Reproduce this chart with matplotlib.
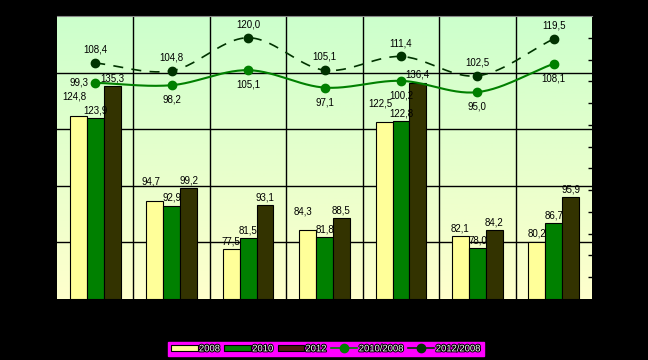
import numpy as np
import matplotlib
matplotlib.use("Agg")
import matplotlib.pyplot as plt
import matplotlib.patheffects as pe
from matplotlib.patches import Patch
from matplotlib.lines import Line2D

# chart data
categories = ["1", "2", "3", "4", "5", "6", "7"]
bars_2008 = [124.8, 94.7, 77.5, 84.3, 122.5, 82.1, 80.2]
bars_2010 = [123.9, 92.9, 81.5, 81.8, 122.8, 78.0, 86.7]
bars_2012 = [135.3, 99.2, 93.1, 88.5, 136.4, 84.2, 95.9]
ratio_2010_2008 = [99.3, 98.2, 105.1, 97.1, 100.2, 95.0, 108.1]
ratio_2012_2008 = [108.4, 104.8, 120.0, 105.1, 111.4, 102.5, 119.5]
bar_labels = ["2008", "2010", "2012"]
line_labels = ["2010/2008", "2012/2008"]

c_2008 = "#ffff99"
c_2010 = "#008000"
c_2012 = "#333300"
c_line1 = "#008000"
c_line2 = "#003300"

plt.rcParams["font.family"] = ["Liberation Sans", "DejaVu Sans"]


def fmt(v):
    return f"{v:.1f}".replace(".", ",")


def smooth(xs, ys, n=30):
    # Catmull-Rom style smoothing like spreadsheet "smoothed line"
    xs = np.asarray(xs, float)
    ys = np.asarray(ys, float)
    px = np.concatenate([[2 * xs[0] - xs[1]], xs, [2 * xs[-1] - xs[-2]]])
    py = np.concatenate([[2 * ys[0] - ys[1]], ys, [2 * ys[-1] - ys[-2]]])
    outx, outy = [], []
    t = np.linspace(0, 1, n)
    for i in range(1, len(px) - 2):
        for arr, out in ((px, outx), (py, outy)):
            p0, p1, p2, p3 = arr[i - 1], arr[i], arr[i + 1], arr[i + 2]
            out.extend(0.5 * ((2 * p1) + (-p0 + p2) * t
                              + (2 * p0 - 5 * p1 + 4 * p2 - p3) * t ** 2
                              + (-p0 + 3 * p1 - 3 * p2 + p3) * t ** 3))
    return np.array(outx), np.array(outy)


fig = plt.figure(figsize=(6.48, 3.6), dpi=100, facecolor="black")
ax = fig.add_axes([0.088, 0.170, 0.8256, 0.7855])

n = len(categories)
x = np.arange(n)
ax.set_xlim(-0.5, n - 0.5)
ax.set_ylim(60, 160)

# gradient background
grad = np.linspace(0, 1, 256).reshape(-1, 1)
cmap = matplotlib.colors.LinearSegmentedColormap.from_list("bg", ["#ffffcc", "#ccffcc"])
ax.imshow(grad, extent=[-0.5, n - 0.5, 60, 160], origin="lower", aspect="auto",
          cmap=cmap, zorder=0)

for yv in [80, 100, 120, 140]:
    ax.axhline(yv, color="black", lw=1, zorder=1)
for xv in x[:-1] + 0.5:
    ax.axvline(xv, color="black", lw=1, zorder=1)

w = 0.221
for k, (vals, col) in enumerate(zip([bars_2008, bars_2010, bars_2012], [c_2008, c_2010, c_2012])):
    xs = x + (k - 1) * w
    ax.bar(xs, [v - 60 for v in vals], bottom=60, width=w, color=col,
           edgecolor="black", linewidth=0.8, zorder=2)
    for i, (xi, v) in enumerate(zip(xs, vals)):
        dx, dy = 0, 2
        # lift the 2008 label when it would collide with the 2010 one
        if k == 0 and abs(v - bars_2010[i]) < 3:
            dx, dy = -3, 10
        ax.annotate(fmt(v), (xi, v), xytext=(dx, dy), textcoords="offset points",
                    ha="center", va="bottom", fontsize=7, zorder=5)

ax.set_xticks([])
ax.set_yticks([])
for s in ["left", "right", "bottom"]:
    ax.spines[s].set_visible(False)
ax.spines["top"].set_color("#888888")

ax2 = ax.twinx()
ax2.set_ylim(0, 130)
ax2.set_yticks(np.arange(10, 121, 10))
ax2.tick_params(axis="y", direction="in", length=3, width=1, color="black",
                labelright=False)
for s in ax2.spines.values():
    s.set_visible(False)

sx, sy = smooth(x, ratio_2010_2008)
ax2.plot(sx, sy, color=c_line1, lw=1.5, zorder=3)
ax2.plot(x, ratio_2010_2008, "o", color=c_line1, ms=6, zorder=4)
sx, sy = smooth(x, ratio_2012_2008)
ax2.plot(sx, sy, color=c_line2, lw=1.2, ls=(0, (6, 5)), zorder=3)
ax2.plot(x, ratio_2012_2008, "o", color=c_line2, ms=6, zorder=4)

for i, v in enumerate(ratio_2010_2008):
    if i == 0:
        ax2.annotate(fmt(v), (x[i], v), xytext=(-5, 0), textcoords="offset points",
                     ha="right", va="center", fontsize=7)
    else:
        ax2.annotate(fmt(v), (x[i], v), xytext=(0, -7), textcoords="offset points",
                     ha="center", va="top", fontsize=7)
for i, v in enumerate(ratio_2012_2008):
    ax2.annotate(fmt(v), (x[i], v), xytext=(0, 6), textcoords="offset points",
                 ha="center", va="bottom", fontsize=7)

handles = [
    Patch(facecolor=c_2008, edgecolor="black", linewidth=0.8),
    Patch(facecolor=c_2010, edgecolor="black", linewidth=0.8),
    Patch(facecolor="#4d1a10", edgecolor="black", linewidth=0.8),
    Line2D([], [], color=c_line1, marker="o", ms=6, lw=1.2),
    Line2D([], [], color=c_line2, marker="o", ms=6, lw=1.2),
]
leg = fig.legend(handles, bar_labels + line_labels, loc="center",
                 bbox_to_anchor=(0.503, 0.031), ncol=5, fontsize=6.8,
                 frameon=True, fancybox=False, facecolor="#ff00ff",
                 edgecolor="#ff00ff", framealpha=1, borderpad=0.3,
                 handlelength=2.8, handleheight=0.6, handletextpad=0.15,
                 columnspacing=0.45, borderaxespad=0)
for t in leg.get_texts():
    t.set_color("white")
    t.set_path_effects([pe.withStroke(linewidth=1.5, foreground="black")])

fig.savefig("out.png", dpi=100, facecolor="black")
